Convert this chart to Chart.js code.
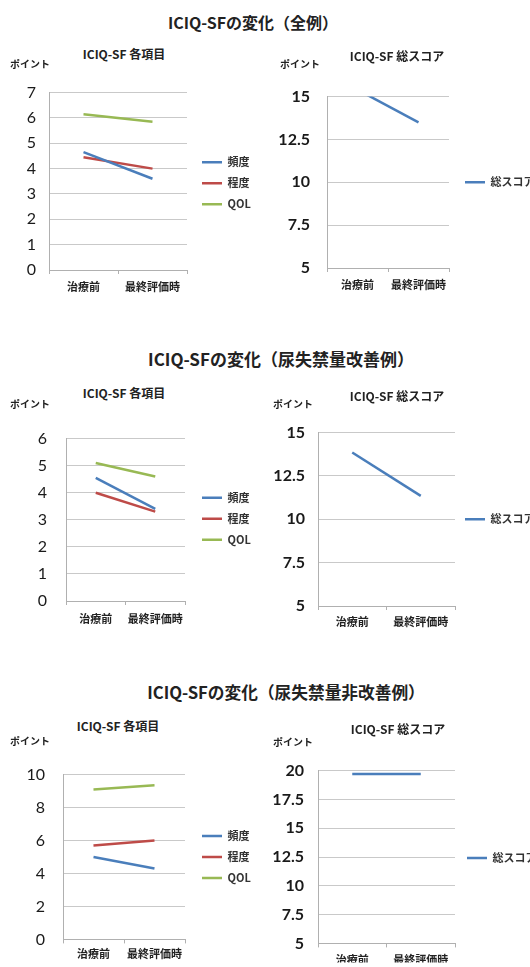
<!DOCTYPE html>
<html lang="ja">
<head>
<meta charset="utf-8">
<script src="https://cdn.jsdelivr.net/npm/chart.js@4"></script>
<style>
  html, body { margin: 0; padding: 0; background: #fff; overflow: hidden; }
  #page { position: relative; width: 530px; height: 967px; overflow: hidden; background: #fff; }
  #page canvas { position: absolute; }
  .txt { position: absolute; white-space: nowrap; font-family: "Noto Sans CJK JP", sans-serif;
         font-weight: 700; color: #222; transform: translate(-50%, -50%); z-index: 2; }
  .title { font-size: 17px; }
  .sub { font-size: 12px; }
  .unit { font-size: 10px; transform: translate(0, -50%); }
</style>
</head>
<body>
<div id="page">
  <div class="txt title" style="left:253px; top:22px; font-size:16px;">ICIQ-SFの変化（全例）</div>
  <div class="txt sub" style="left:124px; top:53px;">ICIQ-SF 各項目</div>
  <div class="txt unit" style="left:10px; top:63px;">ポイント</div>
  <div class="txt sub" style="left:397px; top:55px;">ICIQ-SF 総スコア</div>
  <div class="txt unit" style="left:280px; top:63px;">ポイント</div>

  <div class="txt title" style="left:281px; top:358px;">ICIQ-SFの変化（尿失禁量改善例）</div>
  <div class="txt sub" style="left:124px; top:392px;">ICIQ-SF 各項目</div>
  <div class="txt unit" style="left:10px; top:403px;">ポイント</div>
  <div class="txt sub" style="left:397px; top:395px;">ICIQ-SF 総スコア</div>
  <div class="txt unit" style="left:273px; top:403px;">ポイント</div>

  <div class="txt title" style="left:286px; top:692px; font-size:16.7px;">ICIQ-SFの変化（尿失禁量非改善例）</div>
  <div class="txt sub" style="left:118px; top:725px;">ICIQ-SF 各項目</div>
  <div class="txt unit" style="left:10px; top:740px;">ポイント</div>
  <div class="txt sub" style="left:398px; top:728px;">ICIQ-SF 総スコア</div>
  <div class="txt unit" style="left:273px; top:741px;">ポイント</div>
</div>
<script>
// Time points and series names
const categories = ['治療前', '最終評価時'];
const itemNames = ['頻度', '程度', 'QOL'];
const totalName = '総スコア';

// 全例
const allFrequency = [4.65, 3.6];
const allAmount = [4.45, 4.0];
const allQol = [6.15, 5.85];
const allTotal = [15.4, 13.5];

// 尿失禁量改善例
const impFrequency = [4.55, 3.4];
const impAmount = [4.0, 3.3];
const impQol = [5.1, 4.6];
const impTotal = [13.85, 11.35];

// 尿失禁量非改善例
const nonFrequency = [5.0, 4.3];
const nonAmount = [5.7, 6.0];
const nonQol = [9.1, 9.35];
const nonTotal = [19.7, 19.7];

// Y-axis tick values
const allItemTicks = [0, 1, 2, 3, 4, 5, 6, 7];
const allTotalTicks = [5, 7.5, 10, 12.5, 15];
const impItemTicks = [0, 1, 2, 3, 4, 5, 6];
const impTotalTicks = [5, 7.5, 10, 12.5, 15];
const nonItemTicks = [0, 2, 4, 6, 8, 10];
const nonTotalTicks = [5, 7.5, 10, 12.5, 15, 17.5, 20];

const BLUE = '#4a7ebb';
const RED = '#be4b48';
const GREEN = '#98b954';
const GRID = '#c9c9c9';
const AXIS = '#b0b0b0';

// Gives the right-hand legend a fixed width and shifts it within its slot
const legendPlace = {
  id: 'legendPlace',
  beforeLayout(chart, args, opts) {
    const lg = chart.legend;
    if (!lg || lg._fixedWidth || !opts.width) return;
    const fit = lg.fit.bind(lg);
    lg.fit = function () { fit(); this.width = opts.width; };
    lg._fixedWidth = true;
  },
  afterLayout(chart, args, opts) {
    const lg = chart.legend;
    if (!lg) return;
    const dx = opts.dx || 0, dy = opts.dy || 0;
    lg.left += dx; lg.right += dx;
    lg.top += dy; lg.bottom += dy;
  }
};

const page = document.getElementById('page');

function drawChart(cfg) {
  const c = document.createElement('canvas');
  c.width = cfg.w; c.height = cfg.h;
  c.style.left = cfg.x + 'px'; c.style.top = cfg.y + 'px';
  c.style.width = cfg.w + 'px'; c.style.height = cfg.h + 'px';
  page.appendChild(c);
  const t = cfg.ticks;
  new Chart(c, {
    type: 'line',
    data: {
      labels: categories,
      datasets: cfg.series.map(s => ({
        label: s.name, data: s.values,
        borderColor: s.color, backgroundColor: s.color,
        borderWidth: 2.5, pointRadius: 0, pointHoverRadius: 0, tension: 0
      }))
    },
    options: {
      responsive: false, animation: false, devicePixelRatio: 1,
      layout: { padding: { top: cfg.padTop, right: cfg.padRight, left: 0, bottom: 0 } },
      plugins: {
        tooltip: { enabled: false },
        legend: {
          position: 'right', align: 'center', fullSize: false,
          labels: {
            usePointStyle: true, pointStyle: 'line', pointStyleWidth: 20,
            padding: 10, color: '#333',
            font: { family: '"Noto Sans CJK JP", sans-serif', size: 11, weight: 'bold' }
          }
        },
        legendPlace: { width: cfg.legendW, dx: cfg.dx, dy: cfg.dy }
      },
      scales: {
        x: {
          type: 'category', offset: true,
          grid: { offset: true, drawOnChartArea: false, drawTicks: true, tickLength: 4, color: AXIS },
          border: { display: true, color: AXIS },
          ticks: {
            maxRotation: 0, autoSkip: false, padding: cfg.xPad, color: '#222',
            font: { family: '"Noto Sans CJK JP", sans-serif', size: 11, weight: 'bold' }
          },
          afterFit(scale) { scale.height = cfg.xH; }
        },
        y: {
          min: t[0], max: t[t.length - 1],
          grid: { color: GRID, drawTicks: false, lineWidth: 1 },
          border: { display: true, color: AXIS },
          ticks: {
            stepSize: t[1] - t[0], padding: cfg.yPad, color: '#1a1a1a',
            font: { family: 'Lato, "Open Sans", sans-serif', size: 16, weight: cfg.bold ? 'bold' : 'normal' }
          },
          afterFit(scale) { scale.width = cfg.yW; }
        }
      }
    },
    plugins: [legendPlace]
  });
}

function itemSeries(freq, amount, qol) {
  return [
    { name: itemNames[0], values: freq, color: BLUE },
    { name: itemNames[1], values: amount, color: RED },
    { name: itemNames[2], values: qol, color: GREEN }
  ];
}
function totalSeries(total) {
  return [{ name: totalName, values: total, color: BLUE }];
}

// 全例
drawChart({ x: 0, y: 70, w: 265, h: 230, padTop: 12, padRight: 8, legendW: 70, yW: 49, xH: 30, xPad: 6, yPad: 13,
  dx: 5, dy: 2, ticks: allItemTicks, series: itemSeries(allFrequency, allAmount, allQol) });
drawChart({ x: 266, y: 70, w: 280, h: 230, padTop: 13, padRight: 7, legendW: 90, yW: 61, xH: 32, xPad: 6, yPad: 17,
  dx: 6, dy: 0, bold: true, ticks: allTotalTicks, series: totalSeries(allTotal) });

// 尿失禁量改善例
drawChart({ x: 0, y: 410, w: 265, h: 220, padTop: 13, padRight: 10, legendW: 70, yW: 66, xH: 29, xPad: 7, yPad: 19,
  dx: 7, dy: -1, ticks: impItemTicks, series: itemSeries(impFrequency, impAmount, impQol) });
drawChart({ x: 266, y: 410, w: 280, h: 225, padTop: 12, padRight: 1, legendW: 90, yW: 52, xH: 29, xPad: 5, yPad: 13,
  dx: 0, dy: 0, bold: true, ticks: impTotalTicks, series: totalSeries(impTotal) });

// 尿失禁量非改善例
drawChart({ x: 0, y: 747, w: 265, h: 220, padTop: 13, padRight: 10, legendW: 70, yW: 63, xH: 23, xPad: 4, yPad: 18,
  dx: 7, dy: 0, ticks: nonItemTicks, series: itemSeries(nonFrequency, nonAmount, nonQol) });
drawChart({ x: 266, y: 747, w: 280, h: 220, padTop: 14, padRight: 1, legendW: 90, yW: 52, xH: 19, xPad: 6, yPad: 14,
  dx: 2, dy: 1, bold: true, ticks: nonTotalTicks, series: totalSeries(nonTotal) });
</script>
</body>
</html>
